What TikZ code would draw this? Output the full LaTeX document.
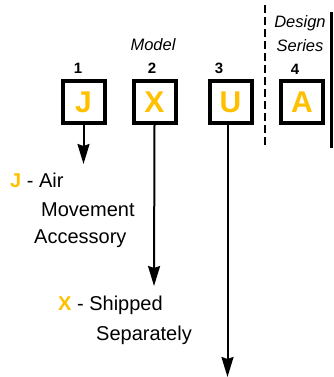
\documentclass[tikz,border=0pt]{standalone}
\usepackage{fontspec}
\setmainfont{Liberation Sans}
\usetikzlibrary{arrows.meta}
\definecolor{codegold}{RGB}{255,192,0}
\begin{document}
\begin{tikzpicture}[x=1pt,y=-1pt,
  digitbox/.style={draw,line width=4pt,minimum size=42pt,inner sep=0pt,
    text=codegold,font=\bfseries\fontsize{30}{30}\selectfont},
  posnum/.style={font=\bfseries\fontsize{15}{15}\selectfont,anchor=base,inner sep=0pt},
  head/.style={font=\itshape\fontsize{16.5}{17}\selectfont,anchor=base,inner sep=0pt},
  desc/.style={font=\fontsize{20}{22}\selectfont,anchor=base west,inner sep=0pt},
  pick/.style={-{Stealth[length=20pt,width=12pt,inset=2pt]},line width=2pt}]
  \useasboundingbox (0,0) rectangle (333,377);
  \node[digitbox] (J) at (83.5,102) {J};
  \node[digitbox] (X) at (154.5,102) {X};
  \node[digitbox] (U) at (230.5,102) {U};
  \node[digitbox] (A) at (302,102) {A};
  \node[posnum] (n1) at (78,74) {1};
  \node[posnum] (n2) at (152,74) {2};
  \node[posnum] (n3) at (219,74) {3};
  \node[posnum] (n4) at (295,74.5) {4};
  \node[head] (model) at (153,51) {Model};
  \node[head] (design) at (300,28) {Design};
  \node[head] (series) at (300,51.5) {Series};
  \draw[line width=2.5pt,dash pattern=on 8pt off 4pt] (265,5) -- (265,148);
  \draw[line width=2.5pt] (331.5,12) -- (331.5,148);
  \coordinate (jend) at (83.5,164);
  \coordinate (xend) at (154,286);
  \coordinate (uend) at (227.5,377);
  \draw[pick] (J.south) -- (jend);
  \draw[pick] (X.south) -- (xend);
  \draw[pick] ([xshift=-3pt]U.south) -- (uend);
  \node[desc] (jline1) at (10,187) {\textcolor{codegold}{\bfseries J} - Air};
  \node[desc] (jline2) at (41,216) {Movement};
  \node[desc] (jline3) at (34,243) {Accessory};
  \node[desc] (xline1) at (58,310.7) {\textcolor{codegold}{\bfseries X} - Shipped};
  \node[desc] (xline2) at (96,340) {Separately};
\end{tikzpicture}
\end{document}
